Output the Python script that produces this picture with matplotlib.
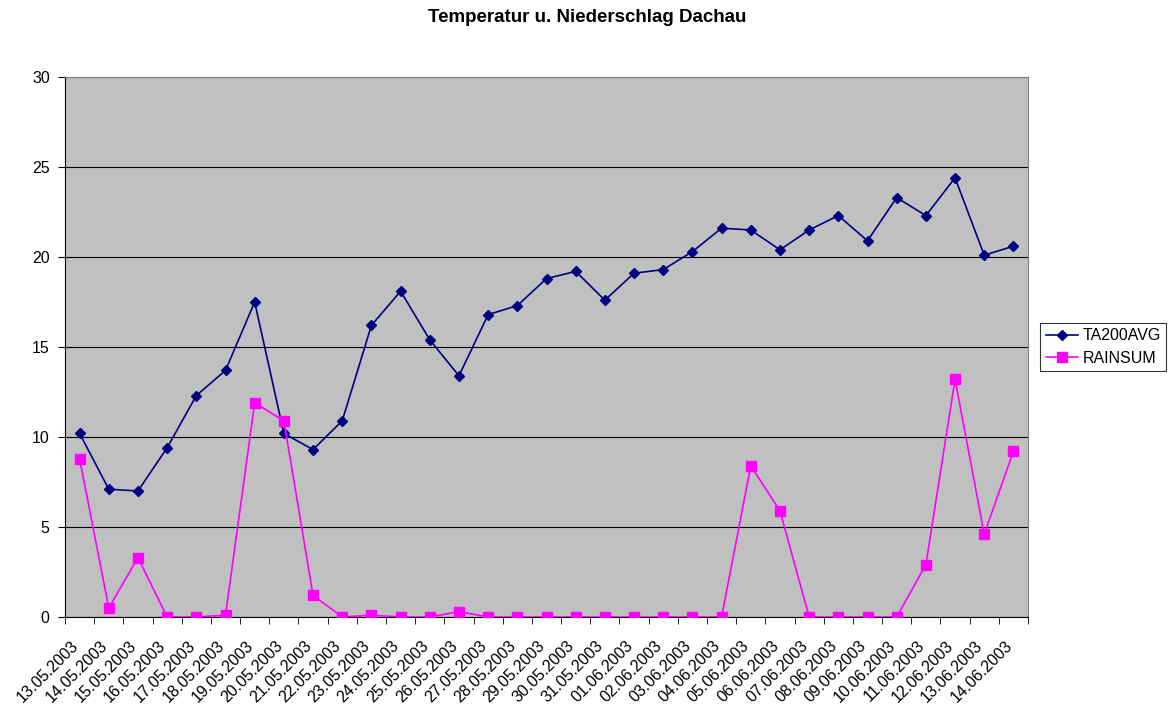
import matplotlib
matplotlib.use("Agg")
import matplotlib.pyplot as plt
import matplotlib.transforms as mtransforms
import numpy as np

plt.rcParams['font.family'] = ['Liberation Sans', 'DejaVu Sans']

dates = ['13.05.2003', '14.05.2003', '15.05.2003', '16.05.2003', '17.05.2003',
         '18.05.2003', '19.05.2003', '20.05.2003', '21.05.2003', '22.05.2003',
         '23.05.2003', '24.05.2003', '25.05.2003', '26.05.2003', '27.05.2003',
         '28.05.2003', '29.05.2003', '30.05.2003', '31.05.2003', '01.06.2003',
         '02.06.2003', '03.06.2003', '04.06.2003', '05.06.2003', '06.06.2003',
         '07.06.2003', '08.06.2003', '09.06.2003', '10.06.2003', '11.06.2003',
         '12.06.2003', '13.06.2003', '14.06.2003']

ta200avg = [10.2, 7.1, 7.0, 9.4, 12.3, 13.7, 17.5, 10.2, 9.3, 10.9,
            16.2, 18.1, 15.4, 13.4, 16.8, 17.3, 18.8, 19.2, 17.6, 19.1,
            19.3, 20.3, 21.6, 21.5, 20.4, 21.5, 22.3, 20.9, 23.3, 22.3,
            24.4, 20.1, 20.6]

rainsum = [8.8, 0.5, 3.3, 0.0, 0.0, 0.1, 11.9, 10.9, 1.2, 0.0,
           0.1, 0.0, 0.0, 0.3, 0.0, 0.0, 0.0, 0.0, 0.0, 0.0,
           0.0, 0.0, 0.0, 8.4, 5.9, 0.0, 0.0, 0.0, 0.0, 2.9,
           13.2, 4.6, 9.2]

x = np.arange(len(dates))

fig = plt.figure(figsize=(11.74, 7.04), dpi=100)
ax = fig.add_axes([65 / 1174, 1 - 617 / 704, (1028 - 65) / 1174, (617 - 77) / 704])
ax.set_facecolor('#c0c0c0')

ax.plot(x, ta200avg, color='#000080', marker='D', markersize=5, linewidth=1.2,
        label='TA200AVG', zorder=3)
ax.plot(x, rainsum, color='#ff00ff', marker='s', markersize=7, linewidth=1.2,
        label='RAINSUM', zorder=3)

ax.set_xlim(-0.5, len(dates) - 0.5)
ax.set_ylim(0, 30)
ax.set_yticks(range(0, 31, 5))
ax.yaxis.grid(True, color='black', linewidth=0.8)
ax.set_axisbelow(True)

ax.set_xticks(x)
ax.set_xticklabels(dates, rotation=45, ha='right', rotation_mode='anchor', fontsize=11.5)
ax.set_xticks(np.arange(-0.5, len(dates)), minor=True)
ax.tick_params(axis='x', which='major', length=0, pad=15)
ax.tick_params(axis='x', which='minor', length=5, direction='out')
ax.tick_params(axis='y', labelsize=11.5, length=5, direction='out', pad=6)

# shift the rotated date labels a bit to the left, like in the original
shift = mtransforms.ScaledTranslation(-9 / 100, 0, fig.dpi_scale_trans)
for lbl in ax.get_xticklabels():
    lbl.set_transform(lbl.get_transform() + shift)

for side in ['top', 'right']:
    ax.spines[side].set_color('#808080')
for side in ['left', 'bottom']:
    ax.spines[side].set_color('black')

fig.text(0.5, 1 - 17 / 704, 'Temperatur u. Niederschlag Dachau', ha='center', va='center',
         fontsize=13.5, fontweight='bold')

leg = ax.legend(loc='center left', bbox_to_anchor=(1.0125, 0.5), frameon=True,
                fancybox=False, edgecolor='black', fontsize=11.5, handlelength=2.0,
                borderpad=0.35, labelspacing=0.45, handletextpad=0.3, borderaxespad=0)
leg.get_frame().set_linewidth(0.8)

fig.savefig('out.png', dpi=100)
